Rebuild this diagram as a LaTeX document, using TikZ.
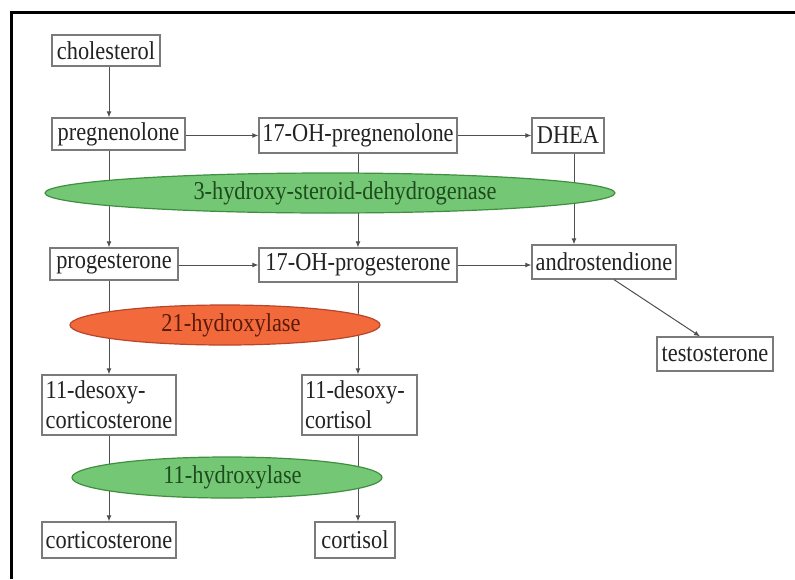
\documentclass[tikz,border=0pt]{standalone}
\usepackage{fontspec}
\setmainfont{Liberation Serif}[FakeStretch=0.87]
\usetikzlibrary{shapes.geometric,arrows.meta}
\definecolor{boxline}{HTML}{7A7A7A}
\definecolor{arrline}{HTML}{505050}
\definecolor{txt}{HTML}{222222}
\definecolor{gfill}{HTML}{74C774}
\definecolor{gline}{HTML}{3F8F3F}
\definecolor{gtext}{HTML}{1E4A1E}
\definecolor{rfill}{HTML}{F26A3C}
\definecolor{rline}{HTML}{B8452A}
\definecolor{rtext}{HTML}{5A1A0A}
\begin{document}
\begin{tikzpicture}[x=1pt,y=-1pt,
  every node/.style={font=\fontsize{25.7}{30}\selectfont},
  mbox/.style={draw=boxline,line width=1.3pt,text=txt,inner sep=0pt,align=left},
  enz/.style={ellipse,inner sep=0pt,line width=1.2pt},
  genz/.style={enz,fill=gfill,draw=gline,text=gtext},
  renz/.style={enz,fill=rfill,draw=rline,text=rtext},
  arr/.style={draw=arrline,line width=1pt,-{Latex[length=6pt,width=5pt]}}]
\useasboundingbox (0,0) rectangle (795,579);
\fill[white] (0,0) rectangle (795,579);
\draw[line width=3pt,black] (11,579) -- (11,12) -- (795,12);
% column coordinates
\coordinate (colA) at (109,0);
\coordinate (colB) at (358,0);
\coordinate (colD) at (574,0);
% boxes
\node[mbox,minimum width=108pt,minimum height=31pt] (chol) at (106,50.5) {cholesterol};
\node[mbox,minimum width=133pt,minimum height=32pt] (preg) at (118.5,134) {pregnenolone};
\node[mbox,minimum width=198pt,minimum height=35pt] (ohpreg) at (358,135.5) {17-OH-pregnenolone};
\node[mbox,minimum width=72pt,minimum height=35pt] (dhea) at (568,135.5) {DHEA};
\node[mbox,minimum width=128pt,minimum height=32pt] (prog) at (114,264) {progesterone};
\node[mbox,minimum width=198pt,minimum height=34pt] (ohprog) at (358,265) {17-OH-progesterone};
\node[mbox,minimum width=144pt,minimum height=34pt] (andro) at (604,262) {androstendione};
\node[mbox,minimum width=116pt,minimum height=34pt] (testo) at (715,354) {testosterone};
\node[mbox,minimum width=134pt,minimum height=60pt] (dcs) at (109,405) {11-desoxy-\\corticosterone};
\node[mbox,text width=109pt,minimum width=115pt,minimum height=60pt] (dcl) at (359.5,405) {11-desoxy-\\cortisol};
\node[mbox,minimum width=134pt,minimum height=36pt] (cs) at (109,540) {corticosterone};
\node[mbox,minimum width=80pt,minimum height=36pt] (cl) at (355,540) {cortisol};
% connectors
\draw[arr] (chol.south -| colA) -- (preg.north -| colA);
\draw[arr] (preg.east |- ohpreg.west) -- (ohpreg.west);
\draw[arr] (ohpreg.east) -- (dhea.west);
\draw[arr] (preg.south -| colA) -- (prog.north -| colA);
\draw[arr] (ohpreg.south -| colB) -- (ohprog.north -| colB);
\draw[arr] (dhea.south -| colD) -- (andro.north -| colD);
\draw[arr] (prog.east |- ohprog.west) -- (ohprog.west);
\draw[arr] (ohprog.east) -- (ohprog.east -| andro.west);
\draw[arr] ([xshift=10pt]andro.south) -- ([xshift=-15pt]testo.north);
\draw[arr] (prog.south -| colA) -- (dcs.north -| colA);
\draw[arr] (ohprog.south -| colB) -- (dcl.north -| colB);
\draw[arr] (dcs.south -| colA) -- (cs.north -| colA);
\draw[arr] (dcl.south -| colB) -- (cl.north -| colB);
% enzymes
\node[genz,minimum width=570pt,minimum height=40pt] (hsd) at (330,193) {\hspace*{30pt}3-hydroxy-steroid-dehydrogenase};
\node[renz,minimum width=310pt,minimum height=40pt] (h21) at (225,325) {\hspace*{12pt}21-hydroxylase};
\node[genz,minimum width=310pt,minimum height=41pt] (h11) at (227,477.5) {\hspace*{11pt}11-hydroxylase};
\end{tikzpicture}
\end{document}
